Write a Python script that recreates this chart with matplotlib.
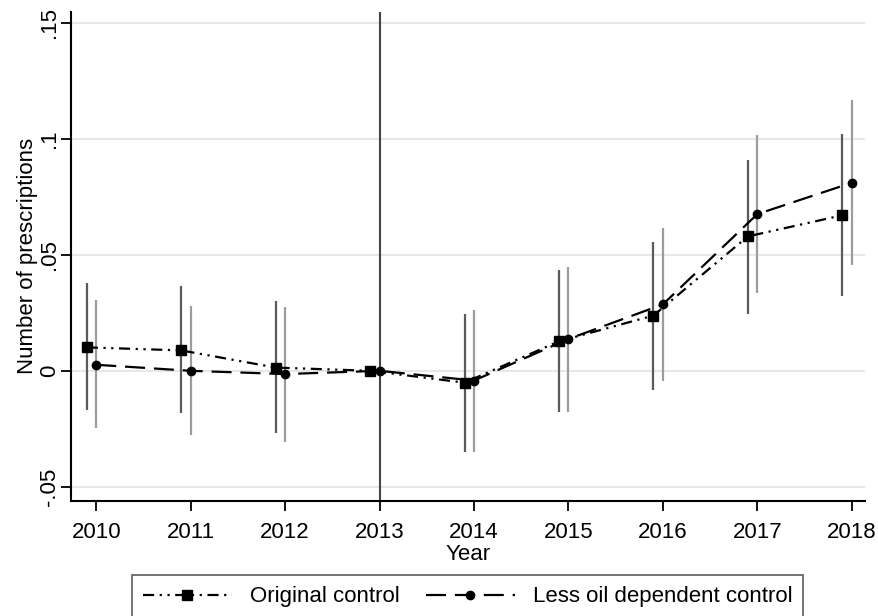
import numpy as np
import matplotlib
matplotlib.use("Agg")
import matplotlib.pyplot as plt

plt.rcParams['font.family'] = ['Liberation Sans', 'DejaVu Sans']

# Data
years = [2010, 2011, 2012, 2013, 2014, 2015, 2016, 2017, 2018]

orig_est = [0.0101, 0.0088, 0.0014, 0.0, -0.0051, 0.0127, 0.0238, 0.0579, 0.0670]
orig_lo = [-0.0169, -0.0182, -0.0269, 0.0, -0.0350, -0.0178, -0.0082, 0.0245, 0.0322]
orig_hi = [0.0377, 0.0364, 0.0299, 0.0, 0.0245, 0.0434, 0.0557, 0.0909, 0.1020]

less_est = [0.0026, 0.0000, -0.0014, 0.0, -0.0042, 0.0137, 0.0286, 0.0675, 0.0810]
less_lo = [-0.0248, -0.0277, -0.0306, 0.0, -0.0350, -0.0178, -0.0043, 0.0337, 0.0455]
less_hi = [0.0303, 0.0278, 0.0276, 0.0, 0.0260, 0.0449, 0.0614, 0.1015, 0.1166]

ytick_vals = [-0.05, 0, 0.05, 0.1, 0.15]
ytick_labels = ["-.05", "0", ".05", ".1", ".15"]

x = np.array(years, dtype=float)
x_orig = x - 0.1

fig = plt.figure(figsize=(8.79, 6.16), dpi=100)
ax = fig.add_axes([0.081, 0.187, 0.903, 0.794])

# gridlines
for v in ytick_vals:
    ax.axhline(v, color="#e3e3e3", lw=1.2, zorder=0)

# reference year
ax.axvline(2013, color="#444444", lw=1.5, zorder=1)

# confidence intervals
ax.vlines(x_orig, orig_lo, orig_hi, color="#5a5a5a", lw=1.6, zorder=2)
ax.vlines(x, less_lo, less_hi, color="#9c9c9c", lw=1.6, zorder=2)

# point estimates
ax.plot(x_orig, orig_est, color="black", lw=1.6, ls=(0, (5, 2.5, 1, 2.5, 1, 2.5)),
        marker="s", markersize=6.5, label="Original control", zorder=3)
ax.plot(x, less_est, color="black", lw=1.6, ls=(0, (9, 4)),
        marker="o", markersize=6, label="Less oil dependent control", zorder=3)

ax.set_xlim(2009.735, 2018.14)
ax.set_ylim(-0.056, 0.1547)
ax.set_xticks(years)
ax.set_xticklabels([str(y) for y in years], fontsize=16)
ax.set_yticks(ytick_vals)
ax.set_yticklabels(ytick_labels, fontsize=16, rotation=90, va="center")

ax.spines["top"].set_visible(False)
ax.spines["right"].set_visible(False)
ax.spines["left"].set_linewidth(1.5)
ax.spines["bottom"].set_linewidth(1.5)
ax.tick_params(axis="x", direction="out", length=7, width=1.3, pad=8)
ax.tick_params(axis="y", direction="out", length=7, width=1.3, pad=1)

ax.set_xlabel("Year", fontsize=16, labelpad=1)
ax.set_ylabel("Number of prescriptions", fontsize=16, labelpad=1)

leg = fig.legend(loc="upper center", bbox_to_anchor=(0.532, 0.066), ncol=2,
                 fontsize=16, frameon=True, fancybox=False, edgecolor="#333333",
                 handlelength=4.0, columnspacing=1.2, borderpad=0.5, numpoints=1,
                 borderaxespad=0)
leg.get_frame().set_linewidth(1.2)

fig.savefig("out.png", dpi=100)
